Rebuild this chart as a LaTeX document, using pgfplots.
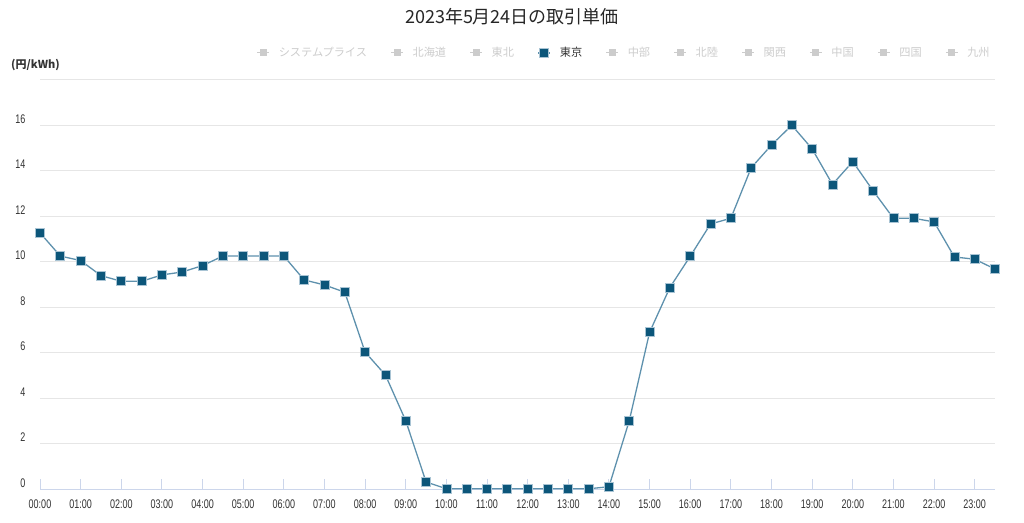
\documentclass[border=0pt]{standalone}
\usepackage{fontspec}
\usepackage{pgfplots}
\pgfplotsset{compat=1.18}
\setmainfont{Liberation Sans}
\newfontfamily\cjk{Noto Sans CJK JP}
\newfontfamily\numfont[FakeStretch=0.72]{Liberation Sans}
\definecolor{mk}{HTML}{0C567A}
\definecolor{mkedge}{HTML}{A9C4D4}
\definecolor{ln}{HTML}{5E91AD}
\definecolor{gridc}{HTML}{E6E6E6}
\definecolor{axc}{HTML}{CCD6EB}
\definecolor{hid}{HTML}{CCCCCC}
\definecolor{txt}{HTML}{333333}
\begin{document}
\begin{tikzpicture}[x=1pt,y=1pt]
\path[use as bounding box] (0,0) rectangle (1024,-522);
\node[font=\cjk\fontsize{18}{18}\selectfont, text=black!85] at (512,-17) {2023年5月24日の取引単価};
\node[font=\cjk\fontsize{11}{11}\selectfont\bfseries, text=txt, anchor=west, inner sep=0pt] at (11,-65) {(円/kWh)};
\begin{axis}[
  scale only axis, width=955pt, height=409.5pt,
  at={(40pt,-489pt)}, anchor=south west,
  xmin=0, xmax=23.5, ymin=0, ymax=18,
  clip=false,
  axis x line*=bottom, axis y line*=left,
  y axis line style={draw=none},
  x axis line style={draw=axc, line width=1pt},
  tick align=inside,
  major tick length=10pt,
  xtick={0,1,...,23},
  xticklabels={00:00,01:00,02:00,03:00,04:00,05:00,06:00,07:00,08:00,09:00,10:00,11:00,12:00,13:00,14:00,15:00,16:00,17:00,18:00,19:00,20:00,21:00,22:00,23:00},
  x tick style={draw=axc, line width=1pt},
  y tick style={draw=none},
  ytick={0,2,...,16},
  extra y ticks={18}, extra y tick labels={},
  extra y tick style={grid=major},
  ymajorgrids,
  grid style={draw=gridc, line width=1pt},
  /pgf/number format/assume math mode=true,
  ticklabel style={font=\numfont\fontsize{12.5}{12.5}\selectfont, text=black!80},
  xticklabel style={yshift=-7pt},
  yticklabel style={xshift=-11pt, yshift=6pt},
  legend columns=10,
  legend cell align=left,
  legend style={draw=none, fill=none, at={(0.227,1.065)}, anchor=west,
    inner sep=0pt, outer sep=0pt,
    nodes={inner sep=0pt, font=\cjk\fontsize{11.2}{12}\selectfont, text=hid},
    /tikz/every odd column/.append style={column sep=9pt},
    /tikz/every even column/.append style={column sep=23.5pt}},
  legend image code/.code={\draw[mark repeat=2,mark phase=2,#1] plot coordinates {(0pt,0pt) (6pt,0pt) (12pt,0pt)};},
]
\addlegendimage{draw=hid, line width=1pt, mark=square*, mark size=3pt, mark options={fill=hid, draw=hid}}
\addlegendentry{システムプライス}
\addlegendimage{draw=hid, line width=1pt, mark=square*, mark size=3pt, mark options={fill=hid, draw=hid}}
\addlegendentry{北海道}
\addlegendimage{draw=hid, line width=1pt, mark=square*, mark size=3pt, mark options={fill=hid, draw=hid}}
\addlegendentry{東北}
\addplot[draw=ln, line width=1.3pt, mark=square*, mark size=4.5pt,
  mark options={fill=mk, draw=mkedge, line width=0.7pt}] coordinates {
(0,11.26) (0.5,10.24) (1,10.04) (1.5,9.38) (2,9.13) (2.5,9.13) (3,9.41) (3.5,9.54)
(4,9.82) (4.5,10.24) (5,10.24) (5.5,10.24) (6,10.24) (6.5,9.19) (7,8.97) (7.5,8.65)
(8,6.02) (8.5,5.01) (9,3.00) (9.5,0.31) (10,0.01) (10.5,0.01) (11,0.01) (11.5,0.01)
(12,0.01) (12.5,0.01) (13,0.01) (13.5,0.01) (14,0.10) (14.5,3.00) (15,6.89) (15.5,8.86)
(16,10.23) (16.5,11.65) (17,11.90) (17.5,14.12) (18,15.12) (18.5,15.99) (19,14.95) (19.5,13.39)
(20,14.39) (20.5,13.11) (21,11.90) (21.5,11.90) (22,11.74) (22.5,10.20) (23,10.10) (23.5,9.67)
};
\addlegendentry[text=txt]{東京}
\addlegendimage{draw=hid, line width=1pt, mark=square*, mark size=3pt, mark options={fill=hid, draw=hid}}
\addlegendentry{中部}
\addlegendimage{draw=hid, line width=1pt, mark=square*, mark size=3pt, mark options={fill=hid, draw=hid}}
\addlegendentry{北陸}
\addlegendimage{draw=hid, line width=1pt, mark=square*, mark size=3pt, mark options={fill=hid, draw=hid}}
\addlegendentry{関西}
\addlegendimage{draw=hid, line width=1pt, mark=square*, mark size=3pt, mark options={fill=hid, draw=hid}}
\addlegendentry{中国}
\addlegendimage{draw=hid, line width=1pt, mark=square*, mark size=3pt, mark options={fill=hid, draw=hid}}
\addlegendentry{四国}
\addlegendimage{draw=hid, line width=1pt, mark=square*, mark size=3pt, mark options={fill=hid, draw=hid}}
\addlegendentry{九州}
\end{axis}
\end{tikzpicture}
\end{document}
